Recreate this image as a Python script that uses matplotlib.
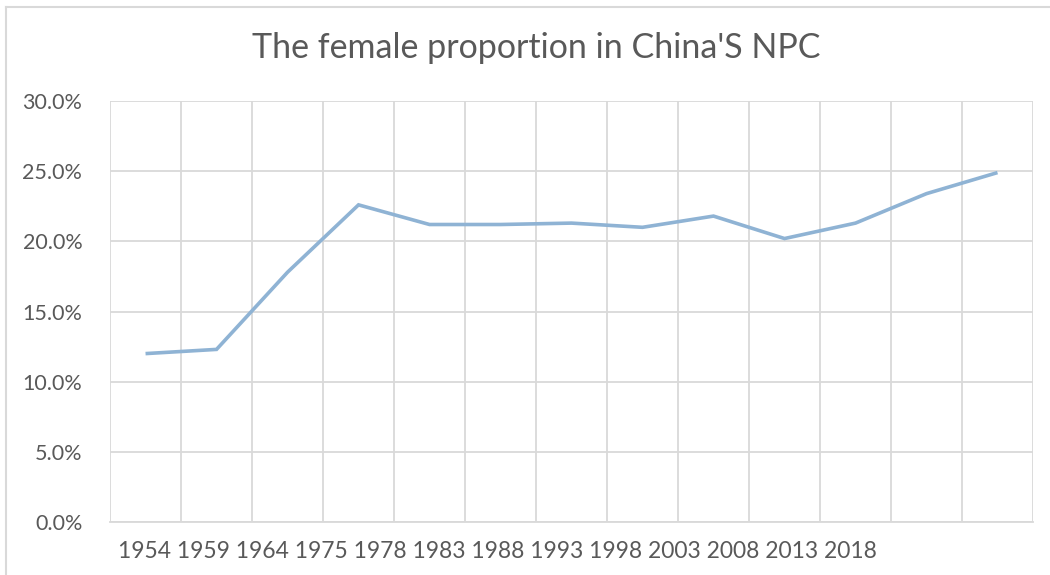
import numpy as np
import matplotlib.pyplot as plt
from matplotlib.ticker import PercentFormatter

# Данные
years = ['1954', '1959', '1964', '1975', '1978', '1983', '1988',
         '1993', '1998', '2003', '2008', '2013', '2018']
female_share = [12.0, 12.3, 17.8, 22.6, 21.2, 21.2, 21.3,
                21.0, 21.8, 20.2, 21.3, 23.4, 24.9]

text_color = '#595959'
grid_color = '#d9d9d9'
line_color = '#8fb3d4'

plt.rcParams['font.family'] = ['Lato', 'DejaVu Sans']

fig = plt.figure(figsize=(10.5, 5.75), dpi=100)
ax = fig.add_axes([0.1048, 0.0922, 0.8790, 0.7321])

x = np.arange(len(female_share)) + 0.5
ax.plot(x, female_share, color=line_color, lw=2.6, solid_capstyle='butt',
        solid_joinstyle='miter', zorder=3)

ax.set_xlim(0, len(female_share))
ax.set_ylim(0, 30)
ax.set_yticks(np.arange(0, 31, 5))
ax.yaxis.set_major_formatter(PercentFormatter(decimals=1))
ax.set_xticks(np.arange(0, len(female_share) + 1))
ax.set_xticklabels([])

ax.grid(True, color=grid_color, lw=1.3)
ax.set_axisbelow(True)
for side in ['top', 'right', 'left']:
    ax.spines[side].set_visible(False)
ax.spines['bottom'].set_color(grid_color)
ax.spines['bottom'].set_linewidth(1.3)
ax.tick_params(axis='both', length=0, labelcolor=text_color, labelsize=15.5, pad=20)

# подписи годов одной строкой под осью (как в исходнике)
fig.text(118 / 1050, 1 - 552 / 575, ' '.join(years), ha='left', va='center',
         fontsize=16.5, color=text_color)

fig.text(536 / 1050, 1 - 48 / 575, "The female proportion in China'S NPC",
         ha='center', va='center', fontsize=24.5, color=text_color)

# рамка диаграммы (видны только левая и верхняя стороны)
fig.add_artist(plt.Line2D([6 / 1050, 6 / 1050], [0, 1 - 7 / 575],
                          transform=fig.transFigure, color=grid_color, lw=1.5))
fig.add_artist(plt.Line2D([6 / 1050, 1], [1 - 7 / 575, 1 - 7 / 575],
                          transform=fig.transFigure, color=grid_color, lw=1.5))

fig.savefig('out.png', dpi=100)
